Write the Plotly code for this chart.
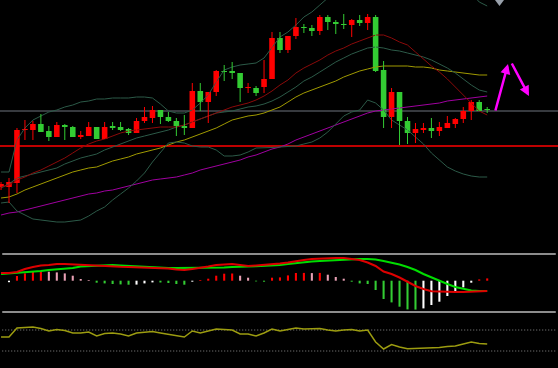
import plotly.graph_objects as go

# ---------------- data (bar -1 is the half-visible bar at the left edge) ----------------
bars = list(range(-1, 61))

opens = [63, 63, 67, 120, 120, 126, 119, 113, 125, 123, 113, 114, 123, 111, 124, 123, 121, 117, 129, 132,
         140, 133, 129, 124, 122, 159, 148, 158, 179, 179, 177, 162, 162, 163, 171, 212, 200, 214, 223, 222,
         219, 233, 228, 226, 225, 230, 227, 233, 180, 133, 158, 129, 117, 120, 122, 119, 122, 126, 131, 139,
         148, 141]
highs = [68, 72, 122, 130, 129, 136, 124, 128, 126, 124, 119, 128, 123, 128, 128, 128, 122, 132, 143, 144,
         140, 138, 132, 135, 167, 167, 158, 180, 185, 188, 177, 167, 164, 190, 218, 218, 214, 232, 226, 225,
         235, 235, 230, 236, 231, 235, 236, 235, 189, 162, 158, 133, 127, 127, 132, 128, 134, 132, 143, 150,
         150, 143]
lows = [60, 47, 57, 110, 110, 118, 109, 113, 110, 113, 111, 114, 111, 111, 120, 119, 115, 117, 127, 127,
        126, 128, 114, 115, 122, 139, 127, 154, 169, 171, 148, 157, 154, 157, 171, 197, 197, 211, 217, 214,
        215, 220, 216, 221, 213, 224, 220, 178, 122, 122, 105, 106, 107, 117, 112, 114, 122, 122, 127, 130,
        139, 137]
closes = [66, 68, 120, 121, 126, 118, 113, 125, 123, 113, 115, 123, 111, 123, 122, 120, 117, 129, 133, 140,
          133, 129, 124, 122, 159, 148, 158, 179, 178, 177, 162, 163, 157, 171, 212, 200, 214, 223, 222, 219,
          233, 228, 226, 225, 230, 227, 233, 179, 133, 158, 129, 117, 121, 122, 119, 123, 127, 131, 139, 148,
          139, 140]

bb_upper = [78, 78, 110, 122, 130, 134, 138, 140, 143, 145, 148, 149, 151, 151, 152, 152, 152, 153, 153, 152,
            146, 139, 137, 137, 140, 147, 155, 168, 180, 183, 185, 186, 187, 192, 203, 213, 218, 225, 233, 238,
            245, 252, 256, 260, 262, 264, 264, 266, 270, 272, 275, 278, 280, 282, 283, 282, 280, 275, 267, 257,
            248, 244]
bb_middle = [62, 66, 72, 74, 76, 78, 80, 82, 86, 89, 92, 94, 96, 100, 103, 106, 109, 112, 114, 116,
             118, 120, 123, 125, 128, 131, 134, 137, 138, 139, 141, 143, 144, 146, 149, 153, 158, 163, 169, 173,
             178, 183, 188, 192, 196, 199, 202, 203, 202, 200, 199, 197, 195, 193, 190, 186, 182, 177, 171, 165,
             160, 158]
bb_lower = [47, 48, 39, 35, 31, 30, 29, 28, 28, 29, 30, 34, 39, 43, 50, 56, 62, 69, 77, 88,
            98, 107, 108, 107, 104, 103, 103, 100, 94, 94, 95, 98, 102, 102, 102.5, 103, 103.5, 104, 106, 108,
            112, 118, 126, 134, 138, 140, 150, 147, 140, 130, 125, 120, 113, 106, 97, 90, 83, 79, 76, 74,
            73, 73]
ma_fast = [63, 65, 70, 73, 77, 80, 84, 88, 92, 97, 102, 106, 109, 111, 114, 117, 119, 120, 121, 122,
           123, 123, 123, 125, 128, 131, 134, 137, 140, 143, 145, 147, 150, 154, 159, 165, 170, 177, 182, 186,
           190, 195, 199, 202, 206, 209, 212, 215, 215, 212, 208, 205, 198, 191, 184, 178, 171, 163, 155, 146,
           139, 135]
ma_mid = [52, 53, 56, 60, 63, 66, 69, 72, 75, 78, 80, 82, 83, 86, 89, 91, 93, 96, 98, 100,
          102, 105, 108, 110, 113, 116, 119, 122, 126, 130, 132, 134, 135, 137, 140, 143, 148, 153, 157, 160,
          163, 166, 169, 173, 176, 179, 181, 183, 184, 184, 184, 184, 183, 183, 182, 180, 179, 178, 177, 176,
          175, 175]
ma_slow = [35, 37, 38, 40, 42, 44, 46, 48, 50, 52, 54, 56, 57, 59, 60, 62, 64, 66, 68, 70,
           71, 72, 73, 75, 77, 80, 82, 84, 86, 88, 90, 93, 95, 98, 101, 103, 106, 110, 113, 116,
           119, 122, 125, 128, 131, 134, 137, 139, 140, 141, 142, 143, 144, 145, 146, 147, 149, 150, 151, 152,
           153, 154]

level_resistance = 139
level_support = 104

macd_main = [7.7, 7.7, 8.7, 11.7, 13.7, 15.2, 15.7, 16.7, 16.7, 16.2, 15.7, 15.2, 14.7, 14.4, 14.2, 13.9,
             13.7, 13.5, 13.2, 12.9, 12.7, 12.2, 11.2, 10.7, 11.7, 12.7, 14.2, 15.7, 16.2, 16.7, 15.7, 14.7,
             15.2, 15.7, 16.7, 17.2, 18.2, 19.7, 20.7, 21.7, 22.2, 22.7, 22.7, 22.7, 21.7, 20.7, 18.2, 14.7,
             9.2, 6.7, 3.2, -1.3, -5.3, -8.3, -10.6, -10.8, -11.3, -11.3, -11.3, -10.8, -10.3, -10.3]
macd_signal = [6.7, 7.2, 7.7, 8.2, 8.7, 9.7, 10.7, 11.2, 11.7, 12.7, 14.2, 14.7, 15.2, 15.7, 15.7, 15.2,
               14.7, 14.2, 13.7, 13.2, 12.7, 12.7, 12.7, 12.7, 12.7, 12.7, 12.7, 12.9, 13.2, 13.7, 14.2, 14.2,
               14.4, 14.7, 15.2, 15.7, 16.7, 17.7, 18.7, 19.2, 19.7, 20.2, 20.7, 21.2, 21.7, 21.7, 21.7, 21.2,
               19.7, 18.2, 16.2, 13.7, 10.7, 6.7, 3.2, -0.3, -3.3, -6.3, -8.3, -9.8, -10.3, -10.3]
macd_hist = [None, -1.5, 4.7, 7.3, 9.0, 10.0, 9.0, 8.3, 7.3, 5.0, 1.7, 0.7, -2.0, -2.7, -3.3, -3.7,
             -4.0, -3.9, -2.7, -1.7, -1.8, -2.3, -3.3, -4.0, -1.0, 0.7, 2.0, 5.0, 7.0, 7.2, 5.0, 3.0,
             -0.7, -1.0, 3.0, 3.3, 5.3, 7.7, 7.8, 7.6, 7.8, 6.0, 3.7, 2.0, -1.0, -2.7, -3.3, -9.3,
             -18.3, -21.7, -26.0, -28.7, -28.9, -27.7, -24.3, -21.0, -15.3, -12.0, -6.7, -2.0, 1.3, 2.3]

rsi = [56.7, 56.7, 73.8, 74.8, 75.7, 72.9, 68.1, 71.0, 69.0, 64.3, 64.3, 66.2, 58.6, 63.3, 64.3, 62.4,
       58.6, 64.3, 65.2, 67.1, 64.3, 61.4, 59.5, 56.7, 68.1, 64.3, 68.1, 71.9, 71.0, 70.0, 62.4, 62.4,
       58.6, 64.3, 71.9, 68.1, 71.0, 73.8, 71.9, 71.9, 72.9, 70.0, 68.1, 70.0, 71.0, 68.1, 70.0, 47.1,
       33.8, 42.4, 37.6, 34.4, 34.8, 35.7, 35.7, 36.7, 38.6, 39.5, 43.3, 47.1, 44.3, 43.3]
rsi_levels = [70, 30]

# hand-drawn signal arrows (bar index, price)
arrow_tail_bar = [60.98, 62.99]
arrow_tail_price = [138, 188]
arrow_head_bar = [62.61, 65.24]
arrow_head_price = [186, 154]

# ---------------- styling ----------------
UP = "#ff0000"
DOWN = "#33cc33"
BAND = "#2c5a48"

fig = go.Figure()


def line(y, color, width=1.0, axis="y"):
    fig.add_trace(go.Scatter(x=bars, y=y, mode="lines", yaxis=axis,
                             line=dict(color=color, width=width),
                             hoverinfo="skip", showlegend=False))


# main-panel indicator lines
line(ma_slow, "#a000a0")
line(ma_mid, "#a09a00")
line(bb_upper, BAND)
line(bb_middle, BAND)
line(bb_lower, BAND)
line(ma_fast, "#8b0a0a")

# candles: bodies as bars, wicks as thin lines
for is_up, color in ((True, UP), (False, DOWN)):
    idx = [k for k in range(len(bars)) if (closes[k] >= opens[k]) == is_up]
    bx = [bars[k] for k in idx]
    lo = [min(opens[k], closes[k]) for k in idx]
    hi = [max(opens[k], closes[k]) for k in idx]
    fig.add_trace(go.Bar(x=bx, y=[h - l for h, l in zip(hi, lo)], base=lo, width=0.70,
                         marker=dict(color=color, line=dict(width=0)),
                         hoverinfo="skip", showlegend=False))
    wx, wy = [], []
    for k in idx:
        wx += [bars[k], bars[k], None]
        wy += [lows[k], highs[k], None]
    fig.add_trace(go.Scatter(x=wx, y=wy, mode="lines", line=dict(color=color, width=1),
                             hoverinfo="skip", showlegend=False))

# MACD histogram colours from the direction of the histogram
hist_colors = []
prev = None
for v in macd_hist:
    if v is None:
        hist_colors.append("rgba(0,0,0,0)")
    elif v >= 0:
        hist_colors.append(UP if (prev is None or v >= prev) else "#e8a0b4")
    else:
        hist_colors.append(DOWN if (prev is not None and v <= prev) else "#ffffff")
    if v is not None:
        prev = v
fig.add_trace(go.Bar(x=bars, y=macd_hist, width=0.26, yaxis="y2",
                     marker=dict(color=hist_colors, line=dict(width=0)),
                     hoverinfo="skip", showlegend=False))
line(macd_signal, "#00dd00", 2, "y2")
line(macd_main, "#dd0000", 2, "y2")

# RSI
line(rsi, "#9c9c10", 1.5, "y3")

shapes = [
    dict(type="line", xref="paper", yref="y", x0=0, x1=1, y0=level_resistance, y1=level_resistance,
         line=dict(color="#4a4e55", width=1.5), layer="below"),
    dict(type="line", xref="paper", yref="y", x0=0, x1=1, y0=level_support, y1=level_support,
         line=dict(color="#ff0000", width=1.5), layer="below"),
    # panel separators
    dict(type="line", xref="paper", yref="paper", x0=0.004, x1=0.996, y0=1 - 254 / 368, y1=1 - 254 / 368,
         line=dict(color="#8c8c8c", width=2)),
    dict(type="line", xref="paper", yref="paper", x0=0.004, x1=0.996, y0=1 - 312 / 368, y1=1 - 312 / 368,
         line=dict(color="#8c8c8c", width=2)),
    # window-shift marker at the top
    dict(type="path", xref="paper", yref="paper",
         path="M 0.8871,1 L 0.9032,1 L 0.8952,0.9837 Z",
         fillcolor="#98a0aa", line=dict(width=0)),
]
for lvl in rsi_levels:
    shapes.append(dict(type="line", xref="paper", yref="y3", x0=0.004, x1=0.996, y0=lvl, y1=lvl,
                       line=dict(color="#8a8a8a", width=1, dash="1px,2px"), layer="below"))

annotations = []
for tb, tp, hb, hp in zip(arrow_tail_bar, arrow_tail_price, arrow_head_bar, arrow_head_price):
    annotations.append(dict(x=hb, y=hp, ax=tb, ay=tp, xref="x", yref="y", axref="x", ayref="y",
                            text="", showarrow=True, arrowhead=2, arrowsize=0.8, arrowwidth=2.5,
                            arrowcolor="#ff00ff"))

fig.update_layout(
    width=558, height=368, margin=dict(l=0, r=0, t=0, b=0),
    paper_bgcolor="black", plot_bgcolor="black", showlegend=False, barmode="overlay",
    xaxis=dict(range=[-1.129, 68.883], visible=False, fixedrange=True),
    yaxis=dict(domain=[1 - 253 / 368, 1], range=[-3, 250], visible=False),
    yaxis2=dict(domain=[1 - 311 / 368, 1 - 255 / 368], range=[-30.3, 25.7], visible=False, anchor="x"),
    yaxis3=dict(domain=[0, 1 - 313 / 368], range=[-2.38, 102.38], visible=False, anchor="x"),
    shapes=shapes, annotations=annotations,
)

fig.write_html(
    "out.html",
    config={"displayModeBar": False, "staticPlot": True},
    post_script="document.body.style.margin='0';document.body.style.overflow='hidden';"
                "document.documentElement.style.overflow='hidden';",
)
